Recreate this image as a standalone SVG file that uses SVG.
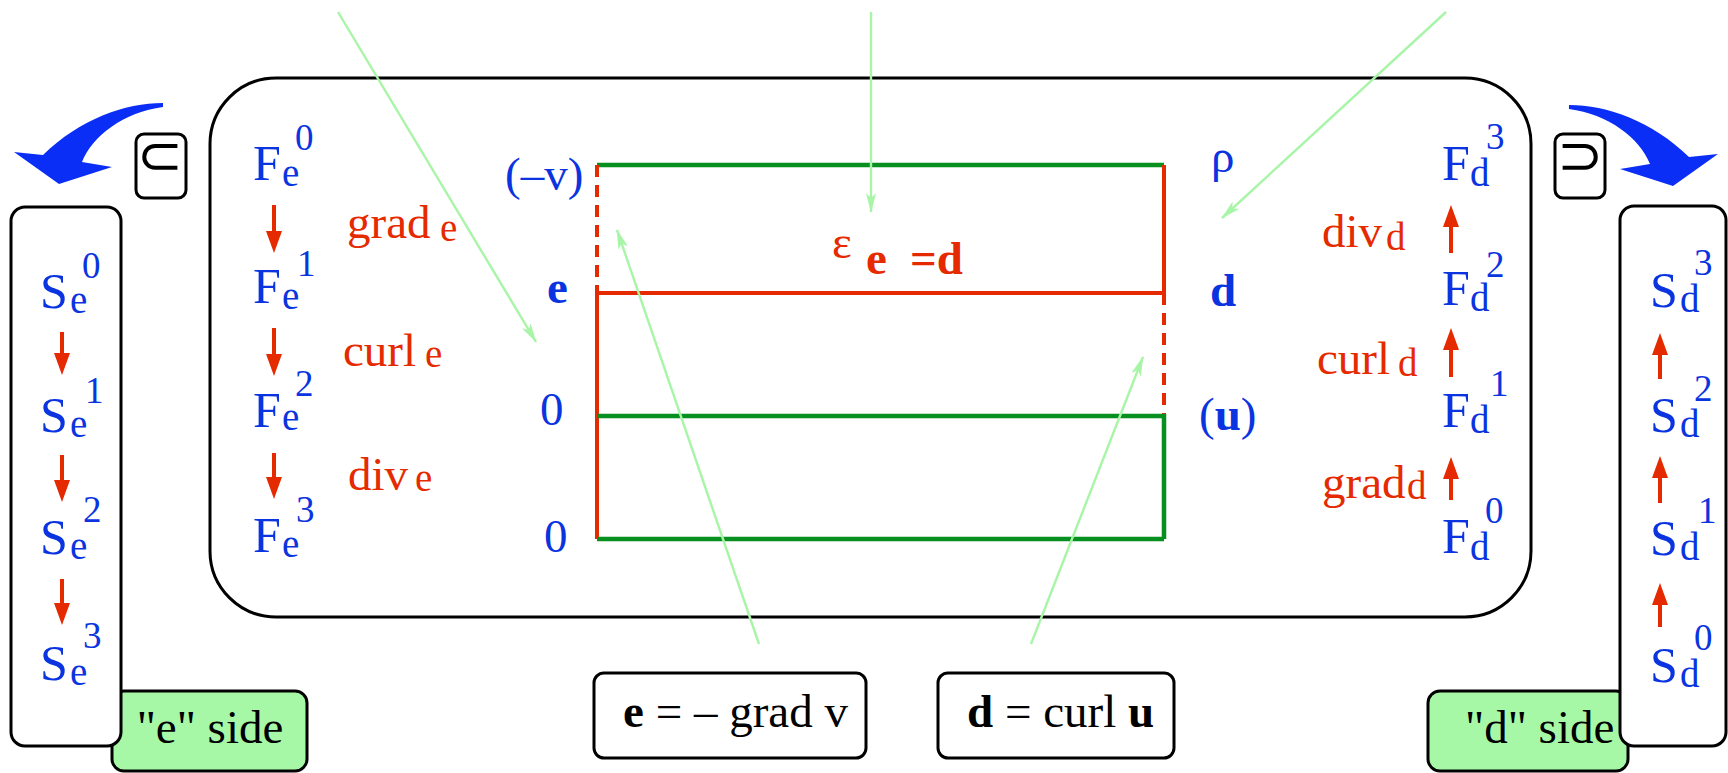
<svg xmlns="http://www.w3.org/2000/svg" width="1728" height="773" viewBox="0 0 1728 773">
<style>
text{font-family:"Liberation Serif","Times New Roman",serif}
.m{font-size:47px}
.L{font-size:50px}
.sb{font-size:39px}
.sp{font-size:37px}
.bl{fill:#0a34e0}
.rd{fill:#e62a00}
.bk{fill:#000}
.bo{font-weight:bold}
.box{fill:#fff;stroke:#000;stroke-width:3}
.gbox{fill:#a6f8a6;stroke:#000;stroke-width:3}
.grn{stroke:#079020;stroke-width:4.5;fill:none}
.red{stroke:#e62a00;stroke-width:4;fill:none}
.dash{stroke-dasharray:12 8}
.ra{stroke:#e62a00;stroke-width:4;fill:none;marker-end:url(#rh)}
.lg{stroke:#a8f5a8;stroke-width:2.4;fill:none;marker-end:url(#lh)}
.sym{font-family:"DejaVu Sans",sans-serif;font-size:55px}
</style>
<defs>
<marker id="rh" viewBox="0 0 22 16" refX="10" refY="8" markerWidth="22" markerHeight="16" orient="auto" markerUnits="userSpaceOnUse">
<path d="M0,0 L22,8 L0,16 Z" fill="#e62a00"/>
</marker>
<marker id="lh" viewBox="0 0 20 10" refX="19" refY="5" markerWidth="20" markerHeight="10" orient="auto" markerUnits="userSpaceOnUse">
<path d="M0,0 L20,5 L0,10 L5,5 Z" fill="#a8f5a8"/>
</marker>
</defs>

<g id="main-frame">
<rect class="box" x="210" y="78" width="1321" height="539" rx="66"/>
</g>

<g id="e-side-label">
<rect class="gbox" x="112" y="691" width="195" height="80" rx="12"/>
<text class="m bk" x="210" y="743" text-anchor="middle">"e" side</text>
</g>
<g id="d-side-label">
<rect class="gbox" x="1428" y="691" width="200" height="80" rx="12"/>
<text class="m bk" x="1465" y="743">"d" side</text>
</g>

<g id="S-e-column">
<rect class="box" x="11" y="207" width="110" height="539" rx="14"/>
<text class="L bl" x="40" y="308">S</text><text class="sb bl" x="70" y="313">e</text><text class="sp bl" x="82" y="278">0</text>
<text class="L bl" x="40" y="432">S</text><text class="sb bl" x="70" y="437">e</text><text class="sp bl" x="85" y="403">1</text>
<text class="L bl" x="40" y="554">S</text><text class="sb bl" x="70" y="559">e</text><text class="sp bl" x="83" y="522">2</text>
<text class="L bl" x="40" y="680">S</text><text class="sb bl" x="70" y="685">e</text><text class="sp bl" x="83" y="648">3</text>
<path class="ra" d="M62,332 V363"/>
<path class="ra" d="M62,455 V490"/>
<path class="ra" d="M62,579 V613"/>
</g>

<g id="S-d-column">
<rect class="box" x="1620" y="206" width="106" height="540" rx="14"/>
<text class="L bl" x="1650" y="307">S</text><text class="sb bl" x="1680" y="312">d</text><text class="sp bl" x="1694" y="275">3</text>
<text class="L bl" x="1650" y="432">S</text><text class="sb bl" x="1680" y="437">d</text><text class="sp bl" x="1694" y="401">2</text>
<text class="L bl" x="1650" y="555">S</text><text class="sb bl" x="1680" y="560">d</text><text class="sp bl" x="1698" y="523">1</text>
<text class="L bl" x="1650" y="682">S</text><text class="sb bl" x="1680" y="687">d</text><text class="sp bl" x="1694" y="650">0</text>
<path class="ra" d="M1660,379 V345"/>
<path class="ra" d="M1660,503 V468"/>
<path class="ra" d="M1660,627 V595"/>
</g>

<g id="subset-box">
<rect class="box" x="136" y="134" width="50" height="64" rx="8"/>
<text class="sym bk" x="160" y="174" text-anchor="middle">⊂</text>
</g>
<g id="supset-box">
<rect class="box" x="1555" y="134" width="50" height="64" rx="8"/>
<text class="sym bk" x="1580" y="174" text-anchor="middle">⊃</text>
</g>

<g id="blue-arrow-left">
<path d="M163,103 C125,103 80,119 43,155 L14,152 L59,184 L112,167 L82,162 C92,136 124,112 163,107 Z" fill="#0a2ef5"/>
</g>
<g id="blue-arrow-right">
<path transform="translate(1732,2) scale(-1,1)" d="M163,103 C125,103 80,119 43,155 L14,152 L59,184 L112,167 L82,162 C92,136 124,112 163,107 Z" fill="#0a2ef5"/>
</g>

<g id="F-e-column">
<text class="L bl" x="253" y="180">F</text><text class="sb bl" x="282" y="186">e</text><text class="sp bl" x="295" y="150">0</text>
<text class="L bl" x="253" y="303">F</text><text class="sb bl" x="282" y="309">e</text><text class="sp bl" x="297" y="276">1</text>
<text class="L bl" x="253" y="427">F</text><text class="sb bl" x="282" y="430">e</text><text class="sp bl" x="295" y="396">2</text>
<text class="L bl" x="253" y="552">F</text><text class="sb bl" x="282" y="557">e</text><text class="sp bl" x="296" y="522">3</text>
<path class="ra" d="M274,205 V241"/>
<path class="ra" d="M274,328 V364"/>
<path class="ra" d="M274,453 V487"/>
<text class="m rd" x="347" y="238">grad</text><text class="sb rd" x="440" y="241">e</text>
<text class="m rd" x="343" y="366">curl</text><text class="sb rd" x="425" y="367">e</text>
<text class="m rd" x="348" y="490">div</text><text class="sb rd" x="415" y="491">e</text>
</g>

<g id="F-d-column">
<text class="L bl" x="1442" y="180">F</text><text class="sb bl" x="1470" y="186">d</text><text class="sp bl" x="1486" y="149">3</text>
<text class="L bl" x="1442" y="305">F</text><text class="sb bl" x="1470" y="311">d</text><text class="sp bl" x="1486" y="277">2</text>
<text class="L bl" x="1442" y="427">F</text><text class="sb bl" x="1470" y="433">d</text><text class="sp bl" x="1490" y="396">1</text>
<text class="L bl" x="1442" y="553">F</text><text class="sb bl" x="1470" y="560">d</text><text class="sp bl" x="1485" y="523">0</text>
<path class="ra" d="M1451,253 V217"/>
<path class="ra" d="M1451,377 V340"/>
<path class="ra" d="M1451,500 V469"/>
<text class="m rd" x="1322" y="247">div</text><text class="sb rd" x="1386" y="250">d</text>
<text class="m rd" x="1317" y="374">curl</text><text class="sb rd" x="1398" y="376">d</text>
<text class="m rd" x="1322" y="498">grad</text><text class="sb rd" x="1407" y="499">d</text>
</g>

<g id="left-potentials">
<text class="m bl" x="505" y="190">(–v)</text>
<text class="m bl bo" x="547" y="303">e</text>
<text class="m bl" x="540" y="425">0</text>
<text class="m bl" x="544" y="552">0</text>
</g>
<g id="right-potentials">
<text class="m bl" x="1211" y="172">ρ</text>
<text class="m bl bo" x="1210" y="306">d</text>
<text class="m bl" x="1199" y="430">(<tspan class="bo">u</tspan>)</text>
</g>

<g id="tonti-diagram">
<path class="grn" d="M597,165 H1164"/>
<path class="red dash" d="M597,165 V293"/>
<path class="red" d="M1164,165 V293"/>
<path class="red" d="M597,293 H1164"/>
<path class="red" d="M597,293 V539"/>
<path class="red dash" d="M1164,293 V416"/>
<path class="grn" d="M597,416 H1164 V539 M597,539 H1164"/>
<text class="m rd" x="832" y="258">ε</text>
<text class="m rd bo" x="866" y="274">e</text>
<text class="m rd bo" x="910" y="274">=d</text>
</g>

<g id="eq-e">
<rect class="box" x="594" y="673" width="272" height="85" rx="10"/>
<text class="m bk" x="623" y="727"><tspan class="bo">e</tspan> = – grad v</text>
</g>
<g id="eq-d">
<rect class="box" x="938" y="673" width="236" height="85" rx="10"/>
<text class="m bk" x="967" y="727"><tspan class="bo">d</tspan> = curl <tspan class="bo">u</tspan></text>
</g>

<g id="connectors">
<path class="lg" d="M338,12 L536,342"/>
<path class="lg" d="M871,12 L871,212"/>
<path class="lg" d="M1446,12 L1222,218"/>
<path class="lg" d="M759,644 L617,230"/>
<path class="lg" d="M1031,644 L1143,357"/>
</g>
</svg>
